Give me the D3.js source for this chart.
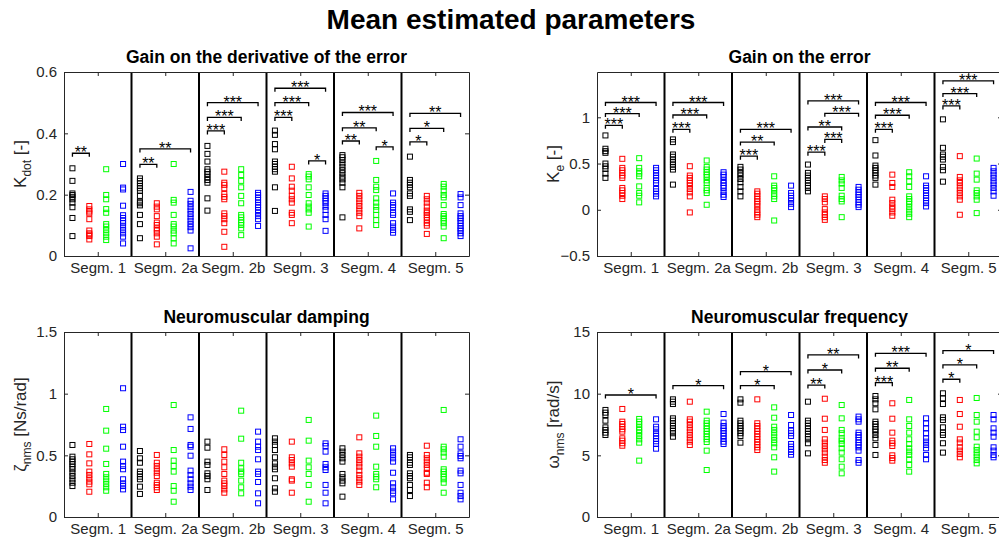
<!DOCTYPE html>
<html><head><meta charset="utf-8">
<script src="https://cdn.jsdelivr.net/npm/d3@7"></script>
<style>
body{margin:0;background:#fff}
svg{display:block;font-family:"Liberation Sans",Arial,Helvetica,sans-serif}
</style>
</head><body>
<svg id="fig" width="999" height="545"></svg>
<script>
// Segment names along the x axis
const segments = ["Segm. 1", "Segm. 2a", "Segm. 2b", "Segm. 3", "Segm. 4", "Segm. 5"];
// Condition colours (one per group inside a segment)
const groupColors = ["#000000", "#ff0000", "#00ff00", "#0000ff"];

// ---- K_dot : gain on the derivative of the error (per segment) ----
const kdotBlack = [
  [0.286,0.245,0.204,0.199,0.193,0.185,0.174,0.159,0.124,0.065],
  [0.253,0.245,0.237,0.228,0.221,0.213,0.196,0.177,0.172,0.165,0.134,0.104,0.058],
  [0.359,0.333,0.308,0.283,0.275,0.267,0.257,0.248,0.239,0.188,0.148],
  [0.409,0.395,0.365,0.348,0.308,0.3,0.291,0.283,0.275,0.224,0.147],
  [0.329,0.322,0.313,0.302,0.291,0.28,0.27,0.259,0.25,0.239,0.224,0.126],
  [0.324,0.248,0.239,0.232,0.224,0.204,0.196,0.152,0.144,0.117]];
const kdotRed = [
  [0.163,0.152,0.145,0.139,0.12,0.083,0.074,0.07,0.065,0.054],
  [0.172,0.161,0.152,0.13,0.109,0.101,0.09,0.083,0.074,0.063,0.038],
  [0.275,0.239,0.232,0.221,0.202,0.193,0.185,0.139,0.13,0.12,0.107,0.079,0.03],
  [0.291,0.253,0.226,0.213,0.196,0.185,0.174,0.141,0.134,0.107],
  [0.206,0.196,0.185,0.174,0.163,0.152,0.141,0.13,0.09],
  [0.196,0.185,0.174,0.161,0.148,0.141,0.134,0.126,0.117,0.107,0.099,0.072]];
const kdotGreen = [
  [0.283,0.199,0.185,0.153,0.141,0.104,0.096,0.085,0.074,0.063,0.052],
  [0.3,0.183,0.174,0.134,0.104,0.096,0.083,0.074,0.058,0.041],
  [0.283,0.264,0.245,0.224,0.196,0.172,0.134,0.126,0.117,0.109,0.101,0.09,0.068],
  [0.267,0.259,0.25,0.224,0.199,0.172,0.161,0.152,0.141,0.096],
  [0.31,0.248,0.226,0.215,0.188,0.174,0.161,0.15,0.134,0.117,0.101],
  [0.235,0.226,0.213,0.199,0.191,0.166,0.137,0.13,0.123,0.115,0.107,0.096,0.058]];
const kdotBlue = [
  [0.3,0.223,0.217,0.164,0.133,0.124,0.115,0.107,0.096,0.085,0.074,0.063,0.041],
  [0.209,0.18,0.17,0.159,0.148,0.137,0.126,0.115,0.104,0.094,0.083,0.025],
  [0.206,0.199,0.191,0.183,0.174,0.166,0.159,0.15,0.141,0.13,0.12,0.098],
  [0.204,0.196,0.188,0.18,0.172,0.161,0.15,0.134,0.12,0.082],
  [0.204,0.174,0.166,0.159,0.141,0.134,0.107,0.096,0.085,0.076],
  [0.202,0.191,0.166,0.139,0.13,0.123,0.115,0.107,0.098,0.09,0.083,0.074,0.065]];
// significance brackets: [segment, group A, group B, height, stars]
const kdotSig = [
  [0,0,1,0.335,"**"],
  [1,0,1,0.299,"**"],[1,0,3,0.349,"**"],
  [2,0,1,0.408,"***"],[2,0,2,0.452,"***"],[2,0,3,0.5,"***"],
  [3,0,1,0.452,"***"],[3,0,2,0.5,"***"],[3,0,3,0.547,"***"],[3,2,3,0.31,"*"],
  [4,0,1,0.375,"**"],[4,0,2,0.418,"**"],[4,0,3,0.468,"***"],[4,2,3,0.356,"*"],
  [5,0,1,0.372,"*"],[5,0,2,0.416,"*"],[5,0,3,0.465,"**"]];

// ---- K_e : gain on the error ----
const keBlack = [
  [0.804,0.66,0.634,0.616,0.5,0.47,0.442,0.391,0.345],
  [0.761,0.732,0.598,0.573,0.543,0.514,0.489,0.464,0.435,0.272],
  [0.464,0.435,0.399,0.37,0.333,0.297,0.247,0.199,0.145],
  [0.489,0.399,0.37,0.345,0.318,0.29,0.261,0.236,0.199],
  [0.753,0.587,0.478,0.453,0.427,0.399,0.37,0.345,0.272],
  [0.978,0.67,0.598,0.573,0.543,0.464,0.427,0.304]];
const keRed = [
  [0.551,0.453,0.427,0.399,0.37,0.345,0.236,0.21,0.181,0.152,0.116],
  [0.471,0.37,0.345,0.318,0.29,0.261,0.225,0.188,0.145,-0.029],
  [0.199,0.174,0.145,0.116,0.09,0.065,0.036,0,-0.029,-0.054,-0.08],
  [0.145,0.116,0.08,0.007,-0.029,-0.054,-0.08,-0.109],
  [0.38,0.29,0.247,0.109,0.072,0.036,0.007,-0.029,-0.065],
  [0.58,0.355,0.318,0.29,0.253,0.217,0.181,0.145,0.109,-0.054]];
const keGreen = [
  [0.558,0.453,0.416,0.391,0.362,0.253,0.181,0.152,0.08],
  [0.533,0.464,0.435,0.406,0.38,0.355,0.318,0.29,0.236,0.21,0.181,0.054],
  [0.362,0.261,0.236,0.21,0.174,0.145,0.116,-0.116],
  [0.355,0.318,0.283,0.236,0.152,0.116,0.09,-0.08],
  [0.406,0.362,0.308,0.247,0.145,0.116,0.09,0.065,0.029,-0.007,-0.043,-0.08],
  [0.554,0.391,0.326,0.21,0.181,0.145,0.109,-0.036]];
const keBlue = [
  [0.453,0.427,0.399,0.37,0.345,0.318,0.29,0.225,0.199,0.174,0.145],
  [0.406,0.38,0.355,0.318,0.29,0.261,0.236,0.199,0.163,0.138],
  [0.261,0.181,0.152,0.127,0.101,0.065,0.029],
  [0.247,0.217,0.188,0.163,0.138,0.109,0.08,0.054,0.029],
  [0.362,0.261,0.236,0.21,0.181,0.152,0.127,0.101,0.072,0.036],
  [0.453,0.416,0.38,0.345,0.308,0.272,0.236,0.199,0.152]];
const keSig = [
  [0,0,1,0.913,"***"],[0,0,2,1.04,"***"],[0,0,3,1.16,"***"],
  [1,0,1,0.87,"***"],[1,0,2,1.025,"***"],[1,0,3,1.16,"***"],
  [2,0,1,0.58,"***"],[2,0,2,0.732,"**"],[2,0,3,0.87,"***"],
  [3,0,1,0.623,"***"],[3,1,2,0.761,"***"],[3,0,2,0.895,"**"],[3,1,3,1.043,"***"],[3,0,3,1.177,"***"],
  [4,0,1,0.87,"***"],[4,0,2,1.022,"***"],[4,0,3,1.16,"***"],
  [5,0,1,1.123,"***"],[5,0,2,1.257,"***"],[5,0,3,1.395,"***"]];

// ---- zeta_nms : neuromuscular damping ----
const zetaBlack = [
  [0.584,0.489,0.468,0.449,0.43,0.408,0.387,0.359,0.332,0.305,0.278,0.251],
  [0.535,0.476,0.44,0.368,0.349,0.327,0.306,0.246,0.187],
  [0.611,0.562,0.449,0.422,0.354,0.332,0.306,0.219],
  [0.638,0.611,0.584,0.543,0.484,0.435,0.408,0.387,0.314,0.233,0.205],
  [0.557,0.53,0.503,0.476,0.449,0.349,0.322,0.295,0.273,0.165],
  [0.503,0.484,0.44,0.422,0.354,0.332,0.314,0.26,0.219,0.17]];
const zetaRed = [
  [0.592,0.508,0.435,0.368,0.341,0.314,0.287,0.265,0.205],
  [0.503,0.44,0.414,0.387,0.359,0.332,0.278,0.26,0.241,0.219],
  [0.549,0.503,0.449,0.403,0.349,0.295,0.273,0.251,0.224,0.197],
  [0.611,0.484,0.462,0.435,0.408,0.306,0.295,0.197],
  [0.646,0.516,0.489,0.462,0.435,0.408,0.376,0.341,0.314,0.287,0.26],
  [0.578,0.503,0.476,0.449,0.422,0.395,0.359,0.349,0.278,0.241]];
const zetaGreen = [
  [0.876,0.7,0.554,0.43,0.349,0.322,0.295,0.268,0.241,0.213],
  [0.908,0.543,0.457,0.414,0.368,0.251,0.213,0.124],
  [0.862,0.635,0.44,0.395,0.368,0.349,0.295,0.241,0.192],
  [0.787,0.619,0.457,0.403,0.349,0.26,0.124],
  [0.822,0.657,0.57,0.408,0.349,0.327,0.306,0.241],
  [0.868,0.57,0.549,0.522,0.489,0.387,0.368,0.349,0.327,0.306,0.278,0.197]];
const zetaBlue = [
  [1.044,0.732,0.705,0.57,0.449,0.414,0.387,0.306,0.273,0.251,0.224],
  [0.808,0.714,0.584,0.57,0.497,0.376,0.341,0.306,0.273,0.246,0.219],
  [0.692,0.611,0.57,0.543,0.468,0.368,0.349,0.284,0.192,0.111],
  [0.597,0.576,0.53,0.43,0.403,0.381,0.26,0.197,0.111],
  [0.557,0.53,0.503,0.476,0.449,0.359,0.273,0.241,0.213,0.192,0.143],
  [0.63,0.57,0.516,0.495,0.476,0.376,0.354,0.26,0.197,0.17,0.143]];
const zetaSig = [];

// ---- omega_nms : neuromuscular frequency ----
const omegaBlack = [
  [8.68,8.46,8.27,7.81,7.27,7.06,6.84,6.65],
  [9.54,9.35,9.16,8.0,7.81,7.6,7.38,7.19,7.0,6.79,6.51],
  [9.54,9.27,7.81,7.6,7.38,7.19,7.0,6.79,6.57,6.03],
  [9.35,7.81,7.6,7.38,7.16,6.95,6.73,6.51,6.3,5.98,5.16],
  [9.81,9.54,9.22,8.73,7.73,7.54,7.32,7.11,6.92,6.65,6.38,5.84,5.03],
  [10.03,9.62,9.16,8.08,7.87,7.27,6.84,6.65,5.98,5.22]];
const omegaRed = [
  [8.76,7.73,7.54,7.32,7.11,6.92,6.38,6.19,5.98,5.78],
  [9.35,7.92,7.73,7.46,7.19,6.92,6.65,6.38,6.11,5.84],
  [9.54,7.6,7.38,7.16,6.95,6.73,6.51,6.3,6.08,5.86,5.65,5.43],
  [9.59,7.97,7.06,6.3,6.03,5.76,5.49,5.22,4.89,4.62,4.4],
  [9.22,7.97,6.84,6.19,5.98,5.76,5.0,4.78,4.57],
  [9.49,8.35,7.32,6.3,6.03,5.65,5.38,5.11,4.84]];
const omegaGreen = [
  [7.95,7.73,7.52,7.27,7.06,6.84,6.57,6.3,6.03,4.57],
  [8.54,7.81,7.6,7.38,7.16,6.95,6.73,6.51,6.3,6.08,5.38,3.81],
  [8.89,8.05,7.32,7.06,6.79,6.51,6.24,5.98,5.65,4.84,3.68],
  [9.08,8.0,7.06,6.79,6.38,6.19,5.92,5.57,5.22,4.68,4.08,3.54],
  [9.49,7.92,7.38,6.84,6.3,5.92,5.57,5.3,5.03,4.68,4.22,3.68],
  [9.65,8.27,7.73,6.92,6.46,5.7,5.43,5.16,4.89,4.62,4.35]];
const omegaBlue = [
  [7.92,7.32,7.11,6.79,6.57,6.35,6.14,5.92,5.54],
  [8.35,7.65,7.38,7.19,7.0,6.79,6.57,6.35,6.11,5.92],
  [8.27,7.46,7.0,6.79,6.57,5.92,5.7,5.49,5.27,5.05],
  [8.14,7.92,7.73,6.84,6.65,6.46,6.24,6.03,5.84,5.65,5.38,4.62,4.4],
  [8.0,7.6,7.19,6.79,6.38,6.11,5.84,5.57,5.03,4.68],
  [8.27,7.92,7.19,6.84,6.51,5.65,5.38,5.03,4.84]];
const omegaSig = [
  [0,0,3,9.89,"*"],
  [1,0,3,10.65,"*"],
  [2,0,2,10.65,"*"],[2,0,3,11.78,"*"],
  [3,0,1,10.7,"**"],[3,0,2,11.92,"*"],[3,0,3,13.14,"**"],
  [4,0,1,10.89,"***"],[4,0,2,12.06,"**"],[4,0,3,13.27,"***"],
  [5,0,1,11.17,"*"],[5,0,2,12.33,"*"],[5,0,3,13.49,"*"]];

// Axis limits and ticks
const kdotTicks = [0, 0.2, 0.4, 0.6];
const keTicks = [-0.5, 0, 0.5, 1];
const zetaTicks = [0, 0.5, 1, 1.5];
const omegaTicks = [0, 5, 10, 15];

const svg = d3.select("#fig");
const axisColor = "#262626";

svg.append("text")
  .attr("x", 511).attr("y", 29)
  .attr("text-anchor", "middle")
  .attr("font-size", 28).attr("font-weight", "bold")
  .attr("fill", "#000")
  .text("Mean estimated parameters");

function drawPanel(p) {
  const width = 405;
  const x = d3.scaleLinear().domain([0.5, 24.5]).range([p.left, p.left + width]);
  const y = d3.scaleLinear().domain(p.yDomain).range([p.bottom, p.top]);
  const g = svg.append("g");
  const groups = [p.black, p.red, p.green, p.blue];

  // segment dividers
  const dividers = d3.range(1, segments.length).map(i => i * 4 + 0.5);
  g.selectAll("line.div").data(dividers).join("line")
    .attr("x1", d => x(d)).attr("x2", d => x(d))
    .attr("y1", p.top).attr("y2", p.bottom)
    .attr("stroke", "#000").attr("stroke-width", 2);

  // markers
  groups.forEach((grp, gi) => {
    grp.forEach((vals, si) => {
      const xp = si * 4 + gi + 1;
      g.selectAll(null).data(vals).join("rect")
        .attr("x", x(xp) - 2.5).attr("y", d => y(d) - 2.5)
        .attr("width", 5).attr("height", 5)
        .attr("fill", "none")
        .attr("stroke", groupColors[gi]).attr("stroke-width", 1);
    });
  });

  // significance brackets
  p.sig.forEach(([s, a, b, h, label]) => {
    const xa = x(s * 4 + a + 1), xb = x(s * 4 + b + 1), yy = y(h);
    g.append("path")
      .attr("d", `M${xa},${yy + 3.5}V${yy}H${xb}V${yy + 3.5}`)
      .attr("fill", "none").attr("stroke", "#000").attr("stroke-width", 1.3);
    g.append("text")
      .attr("x", (xa + xb) / 2).attr("y", yy + 5)
      .attr("text-anchor", "middle").attr("font-size", 16)
      .attr("fill", "#000").text(label);
  });

  // axes (MATLAB-like box with inward ticks)
  const tickPos = segments.map((_, i) => i * 4 + 2.5);
  const bottom = g.append("g").attr("transform", `translate(0,${p.bottom})`)
    .call(d3.axisBottom(x).tickValues(tickPos).tickFormat((d, i) => segments[i])
      .tickSizeInner(-4).tickSizeOuter(0).tickPadding(6));
  const top = g.append("g").attr("transform", `translate(0,${p.top})`)
    .call(d3.axisTop(x).tickValues(tickPos).tickFormat("")
      .tickSizeInner(-4).tickSizeOuter(0));
  const left = g.append("g").attr("transform", `translate(${p.left},0)`)
    .call(d3.axisLeft(y).tickValues(p.yTicks).tickFormat(d3.format("")).tickSizeInner(-4).tickSizeOuter(0).tickPadding(7));
  const right = g.append("g").attr("transform", `translate(${p.left + width},0)`)
    .call(d3.axisRight(y).tickValues(p.yTicks).tickFormat("").tickSizeInner(-4).tickSizeOuter(0));
  [bottom, top, left, right].forEach(a => {
    a.select(".domain").attr("stroke", axisColor).attr("stroke-width", 1);
    a.selectAll(".tick line").attr("stroke", axisColor);
    a.selectAll("text").attr("fill", axisColor).attr("font-size", 15)
      .attr("font-family", "'Liberation Sans', Arial, sans-serif");
  });

  // panel title
  g.append("text")
    .attr("x", p.left + width / 2).attr("y", p.top - 9)
    .attr("text-anchor", "middle").attr("font-size", 17.5).attr("font-weight", "bold")
    .attr("fill", "#000").text(p.title);

  // y label with subscript
  const lab = g.append("text")
    .attr("transform", `translate(${p.left - 38},${(p.top + p.bottom) / 2}) rotate(-90)`)
    .attr("text-anchor", "middle").attr("font-size", 17).attr("fill", axisColor);
  lab.append("tspan").text(p.sym);
  lab.append("tspan").attr("font-size", 12).attr("dy", 5).text(p.sub);
  lab.append("tspan").attr("dy", -5).text(" " + p.unit);
}

drawPanel({left: 64, top: 72, bottom: 256, yDomain: [0, 0.6], yTicks: kdotTicks,
  black: kdotBlack, red: kdotRed, green: kdotGreen, blue: kdotBlue, sig: kdotSig,
  title: "Gain on the derivative of the error", sym: "K", sub: "dot", unit: "[-]"});
drawPanel({left: 597, top: 72, bottom: 256, yDomain: [-0.5, 1.49], yTicks: keTicks,
  black: keBlack, red: keRed, green: keGreen, blue: keBlue, sig: keSig,
  title: "Gain on the error", sym: "K", sub: "e", unit: "[-]"});
drawPanel({left: 64, top: 332, bottom: 517, yDomain: [0, 1.5], yTicks: zetaTicks,
  black: zetaBlack, red: zetaRed, green: zetaGreen, blue: zetaBlue, sig: zetaSig,
  title: "Neuromuscular damping", sym: "\u03B6", sub: "nms", unit: "[Ns/rad]"});
drawPanel({left: 597, top: 332, bottom: 517, yDomain: [0, 15], yTicks: omegaTicks,
  black: omegaBlack, red: omegaRed, green: omegaGreen, blue: omegaBlue, sig: omegaSig,
  title: "Neuromuscular frequency", sym: "\u03C9", sub: "nms", unit: "[rad/s]"});
</script>
</body></html>
